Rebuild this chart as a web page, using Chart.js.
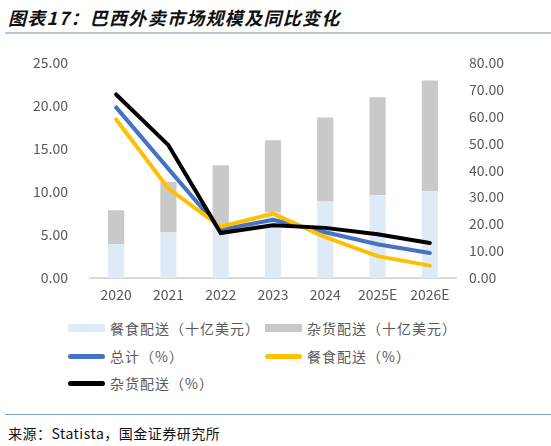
<!DOCTYPE html>
<html>
<head>
<meta charset="utf-8">
<script src="https://cdn.jsdelivr.net/npm/chart.js@4/dist/chart.umd.min.js"></script>
<style>
  body { margin:0; width:551px; height:446px; background:#fff; position:relative; overflow:hidden; font-family:"Noto Sans CJK SC", sans-serif; }
  .title { position:absolute; left:8px; top:4px; font-size:18px; font-weight:bold; font-style:italic; color:#111; letter-spacing:1.3px; }
  .title-line { position:absolute; left:5px; right:0; top:32px; height:2px; background:#b8cadb; }
  .chart-box { position:absolute; left:0; top:32px; width:551px; height:278px; }
  .legend { position:absolute; left:0; top:318px; width:551px; font-size:14px; color:#595959; letter-spacing:1px; }
  .lg-item { position:absolute; display:flex; align-items:center; height:20px; }
  .lg-mark { width:37px; margin-right:5px; }
  .src-line { position:absolute; left:5px; right:0; top:414px; height:1px; background:#7aa3c4; }
  .src { position:absolute; left:8px; top:423px; font-size:14px; color:#111; letter-spacing:0.5px; }
</style>
</head>
<body>
<div class="title">图表17：巴西外卖市场规模及同比变化</div>
<div class="title-line"></div>
<div class="chart-box"><canvas id="c"></canvas></div>
<div class="legend" id="legend"></div>
<div class="src-line"></div>
<div class="src">来源：Statista，国金证券研究所</div>
<script>
// ── DATA ─────────────────────────────────────────────
const years         = ['2020','2021','2022','2023','2024','2025E','2026E'];
const foodSize      = [3.90, 5.27, 6.20, 7.66, 8.87, 9.60, 10.06];   // 十亿美元
const grocerySize   = [3.96, 5.87, 6.88, 8.32, 9.73, 11.37, 12.84];  // 十亿美元
const totalGrowth   = [63.3, 40.5, 17.9, 21.6, 17.0, 12.5, 9.3];     // %
const foodGrowth    = [58.8, 33.2, 19.0, 23.9, 15.2, 8.1, 4.6];      // %
const groceryGrowth = [68.1, 49.3, 16.7, 19.6, 18.6, 16.2, 13.0];    // %

const txt  = '#595959';
const font = { family:'"Noto Sans CJK SC", sans-serif', size:14 };

const datasets = [
  { type:'bar',  label:'餐食配送（十亿美元）', data:foodSize,      backgroundColor:'#deebf7', yAxisID:'y',  stack:'s', order:3, barPercentage:1, categoryPercentage:0.31 },
  { type:'bar',  label:'杂货配送（十亿美元）', data:grocerySize,   backgroundColor:'#c9c9c9', yAxisID:'y',  stack:'s', order:4, barPercentage:1, categoryPercentage:0.31 },
  { type:'line', label:'总计（%）',           data:totalGrowth,   borderColor:'#4472c4', yAxisID:'y1', order:2, borderWidth:4, pointRadius:0, tension:0, borderCapStyle:'round', fill:false },
  { type:'line', label:'餐食配送（%）',       data:foodGrowth,    borderColor:'#ffc000', yAxisID:'y1', order:1, borderWidth:4, pointRadius:0, tension:0, borderCapStyle:'round', fill:false },
  { type:'line', label:'杂货配送（%）',       data:groceryGrowth, borderColor:'#000000', yAxisID:'y1', order:0, borderWidth:4, pointRadius:0, tension:0, borderCapStyle:'round', fill:false }
];

new Chart(document.getElementById('c'), {
  data:{ labels:years, datasets },
  options:{
    responsive:true, maintainAspectRatio:false, animation:false,
    layout:{ padding:0 },
    plugins:{ legend:{ display:false }, tooltip:{ enabled:false } },
    scales:{
      x:{ stacked:true,
          grid:{ display:false, drawTicks:false },
          border:{ color:'#d9d9d9', width:2 },
          ticks:{ color:txt, font, padding:8 },
          afterFit:s => { s.height = 32; } },
      y:{ stacked:true, position:'left', min:0, max:25,
          grid:{ display:false, drawTicks:false }, border:{ display:false },
          ticks:{ stepSize:5, color:txt, font, padding:22, callback:v => v.toFixed(2) },
          afterFit:s => { s.width = 90; } },
      y1:{ position:'right', min:0, max:80,
          grid:{ display:false, drawTicks:false }, border:{ display:false },
          ticks:{ stepSize:10, color:txt, font, padding:13, callback:v => v.toFixed(2) },
          afterFit:s => { s.width = 95; } }
    }
  }
});

// HTML legend in the two-column grid of the reference
const legendPos = [[68,0],[265,0],[68,28],[265,28],[68,55]];
const lg = document.getElementById('legend');
datasets.forEach((d, i) => {
  const it = document.createElement('div');
  it.className = 'lg-item';
  it.style.left = legendPos[i][0] + 'px';
  it.style.top  = legendPos[i][1] + 'px';
  const m = document.createElement('div');
  m.className = 'lg-mark';
  if (d.type === 'bar') { m.style.height = '8px'; m.style.background = d.backgroundColor; }
  else { m.style.height = '5px'; m.style.borderRadius = '3px'; m.style.background = d.borderColor; }
  const t = document.createElement('span');
  t.textContent = d.label;
  it.appendChild(m); it.appendChild(t);
  lg.appendChild(it);
});
</script>
</body>
</html>
